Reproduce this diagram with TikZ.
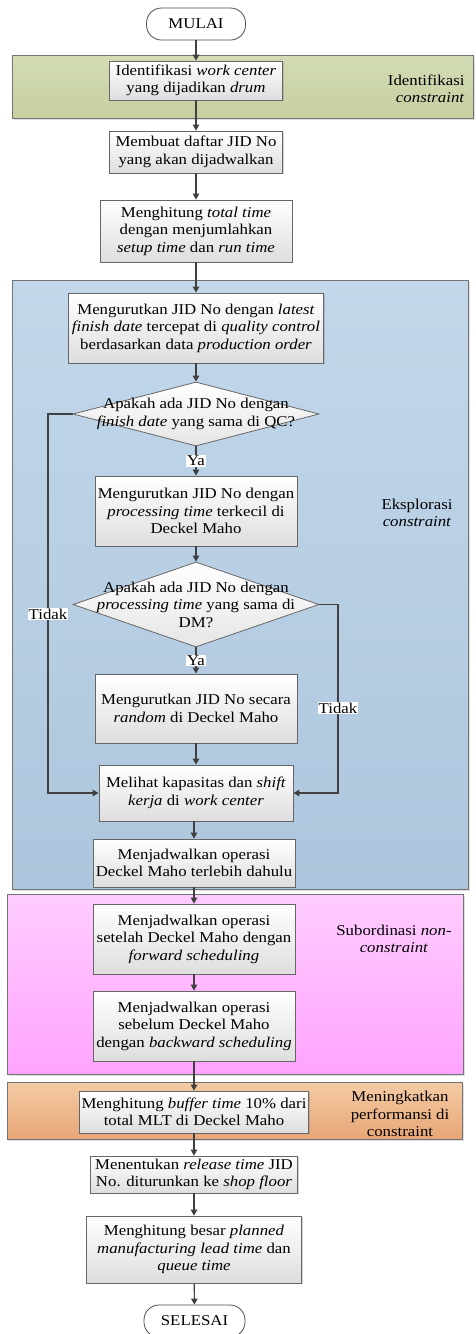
\documentclass[tikz,border=0pt]{standalone}
\usepackage{fontspec}
\setmainfont{Liberation Serif}[FakeStretch=1.12]
\usetikzlibrary{arrows.meta,shapes.geometric,shadows}
\definecolor{gTop}{HTML}{D3DCB5}
\definecolor{gBot}{HTML}{C5CF9F}
\definecolor{bTop}{HTML}{C2D7EA}
\definecolor{bBot}{HTML}{ADC6DD}
\definecolor{pTop}{HTML}{FFCCFF}
\definecolor{pBot}{HTML}{FFA4FF}
\definecolor{oTop}{HTML}{F4CBA4}
\definecolor{oBot}{HTML}{E8A677}
\definecolor{lineC}{HTML}{404040}
\tikzset{
  txt/.style={font=\fontsize{15}{17.5}\selectfont, align=center},
  procbox/.style={txt, rectangle, draw=black!60, line width=0.8pt, top color=white, bottom color=black!13,
     inner sep=0pt, drop shadow={shadow xshift=1.2pt, shadow yshift=-1.2pt, opacity=0.35}},
  decbox/.style={diamond, draw=black!60, line width=0.8pt, top color=white, bottom color=black!10, inner sep=0pt},
  termbox/.style={txt, rectangle, rounded corners=15pt, draw=black!70, line width=0.8pt, fill=white, inner sep=0pt},
  band/.style={rectangle, draw=black!55, line width=0.8pt, inner sep=0pt,
     drop shadow={shadow xshift=1.5pt, shadow yshift=-1.5pt, opacity=0.25}},
  arr/.style={draw=lineC, line width=1.1pt, -{Triangle[length=6pt,width=6.5pt]}},
  conn/.style={draw=lineC, line width=1.1pt},
  lbl/.style={txt, fill=white, inner sep=1pt},
  bandlbl/.style={txt}
}
\begin{document}
\begin{tikzpicture}[x=1pt,y=-1pt]
\useasboundingbox (0,0) rectangle (476,1334);
\fill[white] (0,0) rectangle (476,1334);
% bands
\node[band, top color=gTop, bottom color=gBot, minimum width=461pt, minimum height=63pt] (bandG) at (242.5,86.5) {};
\node[band, top color=bTop, bottom color=bBot, minimum width=456pt, minimum height=609pt] (bandB) at (240,584.5) {};
\node[band, top color=pTop, bottom color=pBot, minimum width=456pt, minimum height=180pt] (bandP) at (235,984) {};
\node[band, top color=oTop, bottom color=oBot, minimum width=455pt, minimum height=57pt] (bandO) at (234.5,1110.5) {};
% band labels
\node[bandlbl, align=right, anchor=east] (lblG) at (468,89) {Identifikasi\\\emph{constraint}};
\node[bandlbl] (lblB) at (417,513) {Eksplorasi\\\emph{constraint}};
\node[bandlbl] (lblP) at (394,939) {Subordinasi \emph{non-}\\\emph{constraint}};
\node[bandlbl] (lblO) at (400,1114) {Meningkatkan\\performansi di\\constraint};
% nodes
\node[termbox, minimum width=99pt, minimum height=32pt] (mulai) at (196,24) {MULAI};
\node[procbox, minimum width=173pt, minimum height=39pt] (b1) at (196,80.5) {Identifikasi \emph{work center}\\yang dijadikan \emph{drum}};
\node[procbox, minimum width=173pt, minimum height=42pt] (b2) at (196,152) {Membuat daftar JID No\\yang akan dijadwalkan};
\node[procbox, minimum width=192pt, minimum height=62pt] (b3) at (196,231) {Menghitung \emph{total time}\\dengan menjumlahkan\\\emph{setup time} dan \emph{run time}};
\node[procbox, minimum width=255pt, minimum height=70pt] (b4) at (196,328) {Mengurutkan JID No dengan \emph{latest}\\\emph{finish date} tercepat di \emph{quality control}\\berdasarkan data \emph{production order}};
\node[decbox, minimum width=246pt, minimum height=64pt,
  label={[txt]center:Apakah ada JID No dengan\\\emph{finish date} yang sama di QC?}] (d1) at (196,414) {};
\node[procbox, minimum width=202pt, minimum height=70pt] (b5) at (196,511) {Mengurutkan JID No dengan\\\emph{processing time} terkecil di\\Deckel Maho};
\node[decbox, minimum width=246pt, minimum height=85pt,
  label={[txt]center:Apakah ada JID No dengan\\\emph{processing time} yang sama di\\DM?}] (d2) at (196,604.5) {};
\node[procbox, minimum width=202pt, minimum height=69pt] (b6) at (196,708.5) {Mengurutkan JID No secara\\\emph{random} di Deckel Maho};
\node[procbox, minimum width=194pt, minimum height=56pt] (b7) at (196,793) {Melihat kapasitas dan \emph{shift}\\\emph{kerja} di \emph{work center}};
\node[procbox, minimum width=202pt, minimum height=48pt] (b8) at (194,863) {Menjadwalkan operasi\\Deckel Maho terlebih dahulu};
\node[procbox, minimum width=202pt, minimum height=70pt] (b9) at (194,939) {Menjadwalkan operasi\\setelah Deckel Maho dengan\\\emph{forward scheduling}};
\node[procbox, minimum width=202pt, minimum height=70pt] (b10) at (194,1026) {Menjadwalkan operasi\\sebelum Deckel Maho\\dengan \emph{backward scheduling}};
\node[procbox, minimum width=229pt, minimum height=42pt] (b11) at (194,1112) {Menghitung \emph{buffer time} 10\% dari\\total MLT di Deckel Maho};
\node[procbox, minimum width=207pt, minimum height=37pt] (b12) at (194,1174.5) {Menentukan \emph{release time} JID\\No. diturunkan ke \emph{shop floor}};
\node[procbox, minimum width=215pt, minimum height=67pt] (b13) at (194,1249.5) {Menghitung besar \emph{planned}\\\emph{manufacturing lead time} dan\\\emph{queue time}};
\node[termbox, minimum width=101pt, minimum height=32pt] (selesai) at (194.5,1321) {SELESAI};
% loop coordinates
\coordinate (lx) at (48,0);
\coordinate (rx) at (338,0);
% connectors
\draw[arr] (mulai) -- (b1);
\draw[arr] (b1) -- (b2);
\draw[arr] (b2) -- (b3);
\draw[arr] (b3) -- (b4);
\draw[arr] (b4) -- (d1);
\draw[arr] (d1) -- node[lbl] (ya1) {Ya} (b5);
\draw[arr] (b5) -- (d2);
\draw[arr] (d2) -- node[lbl] (ya2) {Ya} (b6);
\draw[arr] (b6) -- (b7);
\draw[arr] (b8.north |- b7.south) -- (b8.north);
\draw[arr] (b8) -- (b9);
\draw[arr] (b9) -- (b10);
\draw[arr] (b10) -- (b11);
\draw[arr] (b11) -- (b12);
\draw[arr] (b12) -- (b13);
\draw[arr] (b13) -- (selesai);
\draw[arr] (d1.west) -- (d1.west -| lx) |- (b7.west);
\draw[arr] (d2.east) -- (d2.east -| rx) |- (b7.east);
\node[lbl] (tidak1) at (48,614) {Tidak};
\node[lbl] (tidak2) at (338,708) {Tidak};
\end{tikzpicture}
\end{document}
